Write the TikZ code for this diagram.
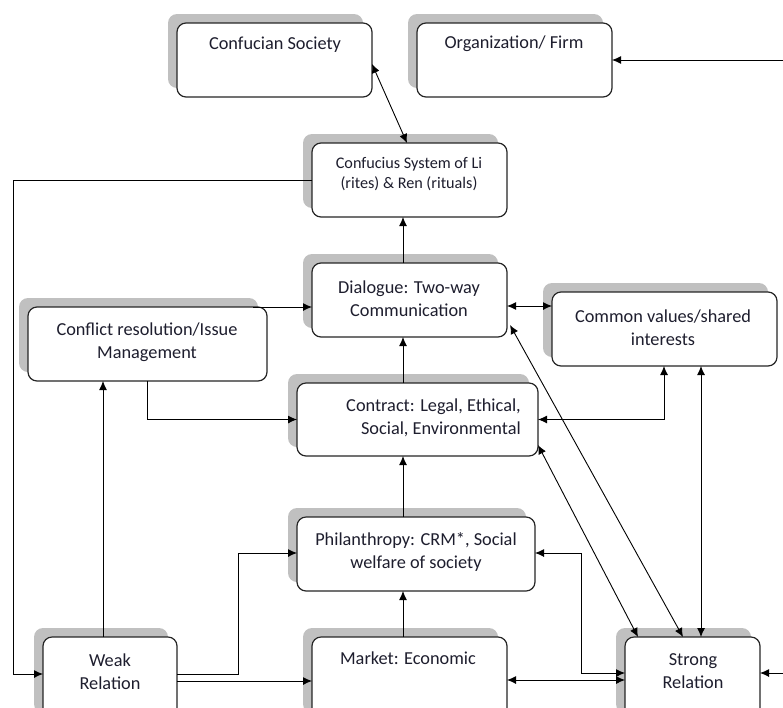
\documentclass[tikz,border=0pt]{standalone}
\usepackage{fontspec}
\setmainfont{Carlito}
\usetikzlibrary{shadows,arrows.meta,calc}
\definecolor{shgray}{HTML}{C0C0C0}
\definecolor{txtc}{HTML}{1E1E2E}
\tikzset{
 box/.style={draw=black!85, line width=1.2pt, rounded corners=9pt, fill=white, inner sep=0pt, outer sep=0pt,
   drop shadow={shadow xshift=-9pt, shadow yshift=9pt, fill=shgray, opacity=1}},
 lbl/.style={font=\fontsize{18.3}{23}\selectfont, align=center, inner sep=0pt, text=txtc},
 lbls/.style={font=\fontsize{16.2}{20.5}\selectfont, align=center, inner sep=0pt, text=txtc},
 conn/.style={line width=0.9pt, draw=black},
 arr/.style={conn, -{Latex[length=9pt,width=8pt]}},
 darr/.style={conn, {Latex[length=9pt,width=8pt]}-{Latex[length=9pt,width=8pt]}},
}
\begin{document}
\begin{tikzpicture}[x=1pt,y=-1pt]
\useasboundingbox (0,0) rectangle (783,707);
\clip (0,0) rectangle (783,707);
% boxes
\node[box, minimum width=195pt, minimum height=74pt] (cs) at (274.5,60) {};
\node[box, minimum width=195pt, minimum height=74pt] (org) at (514.5,60) {};
\node[box, minimum width=195pt, minimum height=74pt] (cf) at (409.5,180) {};
\node[box, minimum width=195pt, minimum height=74pt] (dl) at (409.5,300) {};
\node[box, minimum width=225pt, minimum height=74pt] (cv) at (664.5,329) {};
\node[box, minimum width=239pt, minimum height=74pt] (cr) at (147.5,344) {};
\node[box, minimum width=241pt, minimum height=73pt] (ct) at (417.5,419.5) {};
\node[box, minimum width=238pt, minimum height=74pt] (ph) at (416,554) {};
\node[box, minimum width=134pt, minimum height=85pt] (wk) at (110,679.5) {};
\node[box, minimum width=195pt, minimum height=85pt] (mk) at (409.5,679.5) {};
\node[box, minimum width=135pt, minimum height=85pt] (st) at (692.5,679.5) {};
% texts
\node[lbl] (cst) at (275,45) {Confucian Society};
\node[lbl] (orgt) at (514,44) {Organization/ Firm};
\node[lbls] (cft) at (409,174) {Confucius System of Li\\(rites) \& Ren (rituals)};
\node[lbl] (dlt) at (409,298.5) {Dialogue: Two-way\\Communication};
\node[lbl] (cvt) at (663,328) {Common values/shared\\interests};
\node[lbl] (crt) at (147,342) {Conflict resolution/Issue\\Management};
\node[lbl, align=right, anchor=east] (ctt) at (521,418) {Contract: Legal, Ethical,\\Social, Environmental};
\node[lbl] (pht) at (416,552) {Philanthropy: CRM*, Social\\welfare of society};
\node[lbl] (wkt) at (110,671.5) {Weak\\Relation};
\node[lbl] (mkt) at (408,658) {Market: Economic};
\node[lbl] (stt) at (693,671.5) {Strong\\Relation};
% connectors
\coordinate (vx) at (403,0);
\coordinate (e1) at (783,60);
\coordinate (e2) at (783,673);
\draw[arr] (e1) -- (org.east |- e1);
\draw[darr] ([yshift=-4pt]cs.east) -- ([xshift=-2.5pt]cf.north);
\draw[arr] (cf.west) -| (13,674) -- (wk.west |- 0,674);
\draw[arr] (dl.north -| vx) -- (cf.south -| vx);
\draw[arr] (ct.north -| vx) -- (dl.south -| vx);
\draw[arr] (ph.north -| vx) -- (ct.south -| vx);
\draw[arr] (mk.north -| vx) -- (ph.south -| vx);
\draw[arr] ([xshift=-14pt]cr.north east) -- (dl.west |- cr.north east);
\draw[arr] (cr.south) |- (ct.west);
\draw[arr] (wk.north -| 103,0) -- (cr.south -| 103,0);
\draw[arr] (wk.east |- 0,674) -| (238,553) -- (ph.west |- 0,553);
\draw[arr] (wk.east |- 0,681) -- (mk.west |- 0,681);
\draw[darr] (mk.east |- 0,680) -- (st.west |- 0,680);
\draw[darr] (st.west |- 0,673) -| (581,553) -- (ph.east |- 0,553);
\draw[darr] (ct.east) -| (cv.south -| 664,0);
\draw[darr] (cv.south -| 701,0) -- (st.north -| 701,0);
\draw[darr] (dl.east |- 0,306) -- (cv.west |- 0,306);
\draw[darr] ($(dl.south east)+(3,-12)$) -- (st.north -| 683,0);
\draw[darr] ($(ct.south east)+(0,-11)$) -- (st.north -| 638,0);
\draw[arr] (e2) -- (st.east |- e2);
\end{tikzpicture}
\end{document}
